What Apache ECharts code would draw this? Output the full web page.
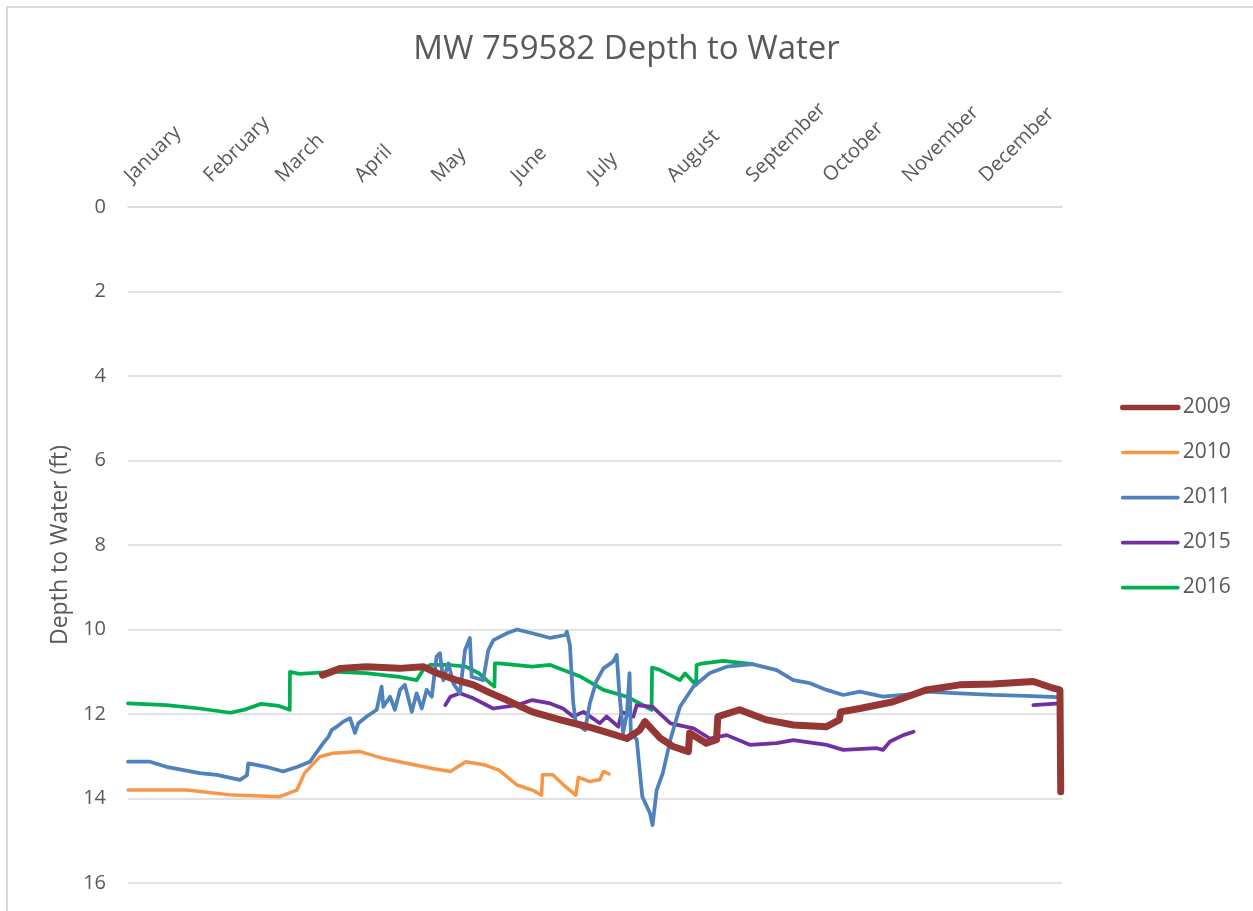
<!DOCTYPE html>
<html>
<head>
<meta charset="utf-8">
<script src="https://cdn.jsdelivr.net/npm/echarts@6/dist/echarts.min.js"></script>
<style>
  html, body { margin: 0; padding: 0; background: #fff; }
  #chart { width: 1253px; height: 911px; }
</style>
</head>
<body>
<div id="chart"></div>
<script>
// month names and the day-of-year where each month starts
const months = ['January', 'February', 'March', 'April', 'May', 'June', 'July', 'August', 'September', 'October', 'November', 'December'];
const monthStarts = [0, 31, 59, 90, 120, 151, 181, 212, 243, 273, 304, 334];
const depthTicks = [0, 2, 4, 6, 8, 10, 12, 14, 16];

// [day of year, depth to water (ft)]
const series2009 = [
  [76, 11.08], [83, 10.92], [93, 10.88], [106, 10.92], [115.3, 10.88], [120.6, 11.03], [128.4, 11.2],
  [135, 11.31], [141.5, 11.5], [148, 11.67], [158, 11.95], [169, 12.14], [177, 12.26], [182, 12.34],
  [195, 12.58], [200, 12.38], [202, 12.18], [208, 12.57], [213, 12.77], [219, 12.89], [219.5, 12.45],
  [226, 12.69], [230, 12.61], [230.5, 12.06], [239, 11.9], [249.6, 12.14], [260, 12.26], [273, 12.3],
  [278, 12.14], [278.5, 11.95], [286, 11.87], [299, 11.71], [312, 11.43], [325, 11.31], [338, 11.29],
  [353.8, 11.23], [361.6, 11.39], [364.2, 11.43], [364.5, 13.84]
];
const series2010 = [
  [0, 13.8], [23, 13.8], [41, 13.92], [59, 13.96], [66, 13.8], [69, 13.4], [75, 13.01], [80, 12.93],
  [90.7, 12.89], [99.7, 13.05], [106, 13.13], [119, 13.29], [126, 13.36], [132, 13.13], [139, 13.2],
  [145, 13.33], [152, 13.68], [158, 13.8], [161.6, 13.92], [162, 13.44], [166, 13.44], [171, 13.72],
  [175, 13.92], [176, 13.5], [180.5, 13.6], [184.4, 13.55], [185.8, 13.36], [188, 13.42]
];
const series2011 = [
  [0, 13.13], [8.6, 13.13], [15, 13.25], [28, 13.4], [34.7, 13.44], [43.8, 13.56], [46.5, 13.45],
  [47, 13.17], [54, 13.25], [60.6, 13.36], [66.3, 13.25], [71.1, 13.13], [76.3, 12.69], [78.3, 12.54],
  [79.6, 12.38], [81.6, 12.3], [84.1, 12.18], [86.8, 12.1], [88.7, 12.45], [90, 12.22], [93.3, 12.06],
  [97.2, 11.9], [99.1, 11.35], [99.8, 11.83], [102.4, 11.59], [104.3, 11.9], [106.3, 11.43],
  [108.2, 11.31], [110.9, 11.95], [112.8, 11.51], [114.8, 11.87], [116.7, 11.43], [118.7, 11.59],
  [120.6, 10.64], [121.9, 10.56], [123.2, 11.2], [125.2, 10.8], [127.1, 11.27], [129.7, 11.51],
  [131.7, 10.49], [133.6, 10.2], [134.3, 11.12], [138.8, 11.2], [140.8, 10.49], [142.8, 10.25],
  [148, 10.09], [152, 10.0], [158, 10.09], [165, 10.2], [171, 10.13], [171.5, 10.05],
  [172.7, 10.37], [174, 11.74], [175, 12.22], [178.6, 12.38], [180.5, 11.74], [183, 11.23],
  [185.8, 10.92], [189.6, 10.76], [191, 10.6], [192, 11.5], [193.5, 12.45], [195, 11.98], [196, 11.03],
  [196.5, 12.45], [198.8, 12.6], [201, 13.96], [204, 14.35], [205, 14.63], [206.6, 13.8], [209, 13.4],
  [212, 12.6], [215.7, 11.83], [221, 11.35], [227.4, 11.03], [234, 10.88], [244, 10.82], [253.5, 10.96],
  [260, 11.2], [266.5, 11.27], [273, 11.43], [279.5, 11.55], [286, 11.47], [295, 11.59], [303, 11.55],
  [312, 11.47], [325, 11.51], [338, 11.55], [351, 11.57], [363, 11.6]
];
const series2015 = [
  [124, 11.79], [126, 11.59], [129.7, 11.51], [135, 11.63], [142.7, 11.87], [152, 11.79], [158, 11.67],
  [165, 11.75], [170, 11.87], [174, 12.06], [178, 11.95], [184.4, 12.22], [187, 12.06], [191.6, 12.3],
  [193, 11.95], [197.5, 12.06], [198.8, 11.79], [205, 11.83], [212, 12.22], [221, 12.34], [227.4, 12.58],
  [234, 12.5], [243, 12.73], [253.5, 12.69], [260, 12.62], [273, 12.73], [279.5, 12.85], [292.6, 12.81],
  [295, 12.85], [297.8, 12.65], [303, 12.5], [307, 12.42], [330, '-'], [353.8, 11.79], [364, 11.75]
];
const series2016 = [
  [0, 11.75], [15, 11.79], [28, 11.87], [40, 11.97], [46, 11.89], [52, 11.76], [59, 11.81], [63.2, 11.9],
  [63.3, 11.0], [67, 11.05], [80, 11.0], [93, 11.03], [106, 11.12], [112.8, 11.2], [115.3, 10.96],
  [118, 10.84], [126, 10.84], [132, 10.88], [137, 11.03], [141.5, 11.27], [143.2, 11.35], [143.4, 10.8],
  [145, 10.8], [158, 10.88], [165, 10.84], [177, 11.12], [185.8, 11.43], [195, 11.59], [204.6, 11.9],
  [204.8, 10.9], [208, 10.96], [215.7, 11.2], [217.7, 11.04], [222, 11.31], [222.2, 10.84],
  [224.7, 10.8], [232.6, 10.74], [244, 10.82]
];

const names = ['2009', '2010', '2011', '2015', '2016'];
const colors = ['#953735', '#F79646', '#4F81BD', '#7030A0', '#00B050'];
const widths = [7, 3.5, 3.75, 3.75, 3.75];
const allData = [series2009, series2010, series2011, series2015, series2016];

const FONT = 'Open Sans';
const GREY = '#595959';

var myChart = echarts.init(document.getElementById('chart'));

myChart.setOption({
  animation: false,
  color: colors,
  title: {
    text: 'MW 759582 Depth to Water',
    left: 'center',
    top: 28,
    textStyle: { color: GREY, fontSize: 33, fontWeight: 'normal', fontFamily: FONT }
  },
  legend: {
    orient: 'vertical',
    left: 1115,
    top: 392,
    itemWidth: 55,
    itemHeight: 14,
    itemGap: 24,
    data: names.map(function (n) {
      return n === '2009' ? { name: n, lineStyle: { width: 5.5 } } : n;
    }),
    itemStyle: { opacity: 0 },
    lineStyle: { width: 'inherit' },
    textStyle: { color: GREY, fontSize: 21, fontFamily: FONT }
  },
  graphic: [{
    type: 'rect',
    shape: { x: 7, y: 7, width: 1300, height: 1000 },
    style: { fill: null, stroke: '#d9d9d9', lineWidth: 2 },
    silent: true
  }],
  grid: { left: 128, right: 191, top: 207, bottom: 28, containLabel: false },
  xAxis: {
    type: 'value',
    position: 'top',
    min: 0,
    max: 365,
    axisLine: { show: true, lineStyle: { color: '#d9d9d9', width: 1.5 } },
    axisTick: { show: false },
    splitLine: { show: false },
    axisLabel: {
      customValues: monthStarts,
      rotate: 45,
      margin: 28,
      align: 'left',
      verticalAlign: 'middle',
      color: GREY,
      fontSize: 20,
      fontFamily: FONT,
      formatter: function (v) { return months[monthStarts.indexOf(v)] || ''; }
    }
  },
  yAxis: {
    type: 'value',
    inverse: true,
    min: 0,
    max: 16,
    interval: 2,
    name: 'Depth to Water (ft)',
    nameLocation: 'middle',
    nameGap: 56,
    nameTextStyle: { color: GREY, fontSize: 23, fontFamily: FONT },
    axisLine: { show: false },
    axisTick: { show: false },
    splitLine: { lineStyle: { color: '#d9d9d9', width: 1.5 } },
    axisLabel: {
      margin: 22,
      color: GREY,
      fontSize: 20,
      fontFamily: FONT,
      customValues: depthTicks
    }
  },
  series: names.map(function (n, i) {
    return {
      name: n,
      type: 'line',
      data: allData[i],
      showSymbol: false,
      symbol: 'none',
      connectNulls: false,
      z: 10 - i,
      lineStyle: { color: colors[i], width: widths[i], cap: 'round', join: 'round' },
      itemStyle: { color: colors[i] }
    };
  })
});
</script>
</body>
</html>
